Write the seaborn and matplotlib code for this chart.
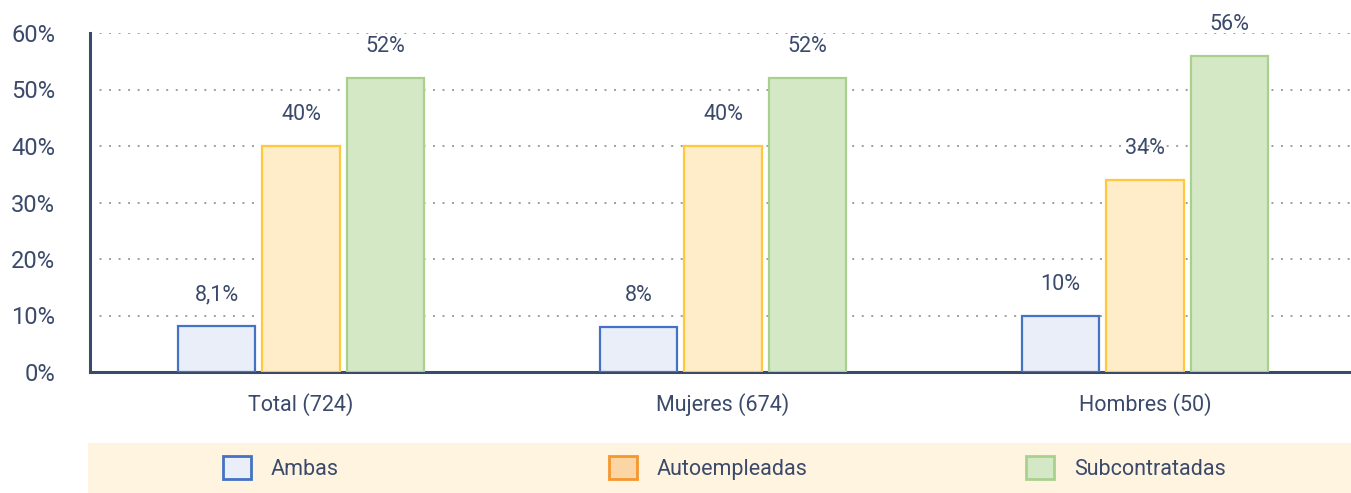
import pandas as pd
import seaborn as sns
import matplotlib.pyplot as plt
from matplotlib.patches import Rectangle

categories = ['Total (724)', 'Mujeres (674)', 'Hombres (50)']
series = ['Ambas', 'Autoempleadas', 'Subcontratadas']
ambas = [8.1, 8, 10]
autoempleadas = [40, 40, 34]
subcontratadas = [52, 52, 56]
yticks = [0, 10, 20, 30, 40, 50, 60]

fills = ['#E9EEF8', '#FEEDC8', '#D5E8C6']
edges = ['#4472C4', '#FFC83D', '#A9D18E']
legend_fills = ['#E9EEF8', '#FCD5A5', '#D5E8C6']
legend_edges = ['#4472C4', '#F7962F', '#A9D18E']
text_color = '#3B4A6B'

rows = []
for name, vals in zip(series, [ambas, autoempleadas, subcontratadas]):
    for cat, v in zip(categories, vals):
        rows.append({'cat': cat, 'serie': name, 'valor': v})
df = pd.DataFrame(rows)

sns.set_style('white')
plt.rcParams['font.family'] = ['Roboto', 'DejaVu Sans']

fig = plt.figure(figsize=(13.51, 4.93), dpi=100)
ax = fig.add_axes([90 / 1351, 1 - 372 / 493, 1266 / 1351, 339 / 493])

sns.barplot(data=df, x='cat', y='valor', hue='serie', palette=fills,
            saturation=1, width=0.6, gap=0.085, legend=False, ax=ax, zorder=3)

for i, cont in enumerate(ax.containers):
    for bar in cont:
        bar.set_edgecolor(edges[i])
        bar.set_linewidth(1.6)
    vals = [ambas, autoempleadas, subcontratadas][i]
    labels = [f'{v:g}'.replace('.', ',') + '%' for v in vals]
    ax.bar_label(cont, labels=labels, padding=15, fontsize=15.5, color=text_color)

ax.set_xlim(-0.5, 2.5)
ax.set_ylim(0, 60)
ax.set_yticks(yticks)
ax.set_yticklabels([f'{t}%' for t in yticks])
ax.yaxis.grid(True, linestyle=(0, (1, 3.9)), color='#9E9E9E', linewidth=1.4, zorder=0)
ax.set_axisbelow(True)
ax.set_xlabel('')
ax.set_ylabel('')

for side in ['top', 'right']:
    ax.spines[side].set_visible(False)
for side in ['left', 'bottom']:
    ax.spines[side].set_color(text_color)
    ax.spines[side].set_linewidth(2.2)

ax.tick_params(axis='y', length=0, pad=25, labelsize=17, labelcolor=text_color)
ax.tick_params(axis='x', which='major', length=0, pad=15, labelsize=15.5, labelcolor=text_color)
ax.set_xticks([0.5, 1.5], minor=True)
ax.tick_params(axis='x', which='minor', direction='in', length=6, width=1.5, color=text_color)

# legend band
fig.patches.append(Rectangle((88 / 1351, 0), 1 - 88 / 1351, 50 / 493,
                             transform=fig.transFigure, facecolor='#FEF4E0',
                             edgecolor='none', zorder=0))
centers = [281, 708, 1126]
for name, fc, ec, cx in zip(series, legend_fills, legend_edges, centers):
    h = Rectangle((0, 0), 1, 1, facecolor=fc, edgecolor=ec, linewidth=2)
    fig.legend([h], [name], loc='center', bbox_to_anchor=(cx / 1351, 1 - 468 / 493),
               frameon=False, fontsize=15.5, labelcolor=text_color,
               handlelength=1.3, handleheight=1.3, handletextpad=0.93)

fig.savefig('out.png', dpi=100)
